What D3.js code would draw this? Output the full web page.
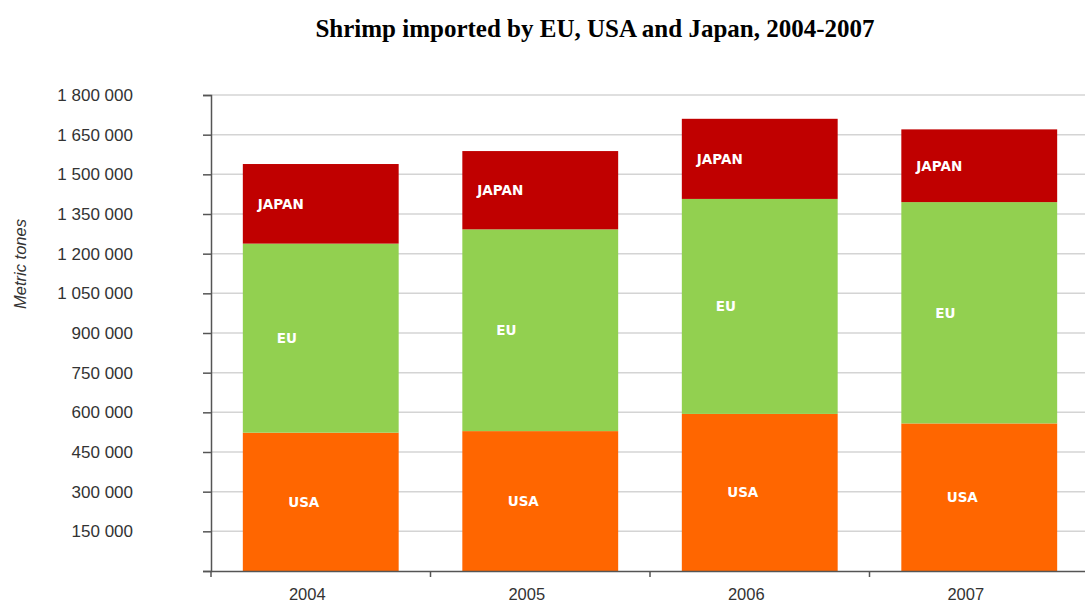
<!DOCTYPE html>
<html>
<head>
<meta charset="utf-8">
<script src="https://cdn.jsdelivr.net/npm/d3@7"></script>
<style>
  body { margin: 0; background: #fff; }
  svg { display: block; }
</style>
</head>
<body>
<div id="vis"></div>
<script>
// data (metric tonnes)
var years = ["2004", "2005", "2006", "2007"];
var series = ["USA", "EU", "JAPAN"];
var usa = [523000, 529000, 594000, 558000];
var eu = [715000, 763000, 813000, 837000];
var japan = [301000, 296000, 303000, 275000];
var yTicks = [0, 150000, 300000, 450000, 600000, 750000, 900000, 1050000, 1200000, 1350000, 1500000, 1650000, 1800000];

var width = 1085, height = 603;
var margin = {top: 95, right: -4, bottom: 32, left: 211};
var innerW = width - margin.left - margin.right,
    innerH = height - margin.top - margin.bottom;

var svg = d3.select("#vis").append("svg")
    .attr("width", width)
    .attr("height", height);

var g = svg.append("g").attr("transform", "translate(" + margin.left + "," + margin.top + ")");

// build rows for the stack
var rows = years.map(function(yr, i) {
  return {year: yr, USA: usa[i], EU: eu[i], JAPAN: japan[i]};
});
var stacked = d3.stack().keys(series)(rows);

var x = d3.scaleBand()
    .domain(years)
    .range([0, innerW])
    .paddingInner(0.29)
    .paddingOuter(0.145);

var y = d3.scaleLinear()
    .domain([0, 1800000])
    .range([innerH, 0]);

var color = d3.scaleOrdinal()
    .domain(series)
    .range(["#ff6600", "#92d050", "#c00000"]);

// label nudges (Excel put them left of centre)
var labelShift = {USA: -17, EU: -34, JAPAN: -40};

var fmt = d3.formatLocale({decimal: ",", thousands: " ", grouping: [3], currency: ["", ""]}).format(",d");

// gridlines
g.append("g")
  .selectAll("line")
  .data(yTicks.slice(1))
  .enter().append("line")
    .attr("x1", 0)
    .attr("x2", innerW)
    .attr("y1", function(d) { return y(d); })
    .attr("y2", function(d) { return y(d); })
    .attr("stroke", "#d4d4d4")
    .attr("stroke-width", 1.5);

// bars
var layer = g.append("g")
  .selectAll("g")
  .data(stacked)
  .enter().append("g")
    .attr("fill", function(d) { return color(d.key); });

layer.selectAll("rect")
  .data(function(d) { return d; })
  .enter().append("rect")
    .attr("x", function(d) { return x(d.data.year); })
    .attr("y", function(d) { return y(d[1]); })
    .attr("width", x.bandwidth())
    .attr("height", function(d) { return y(d[0]) - y(d[1]); });

// labels inside the segments
stacked.forEach(function(s) {
  g.append("g")
    .selectAll("text")
    .data(s)
    .enter().append("text")
      .attr("x", function(d) { return x(d.data.year) + x.bandwidth() / 2 + labelShift[s.key]; })
      .attr("y", function(d) { return (y(d[0]) + y(d[1])) / 2; })
      .attr("dy", "0.36em")
      .attr("text-anchor", "middle")
      .attr("fill", "#fff")
      .style("font-family", "'DejaVu Sans', Verdana, sans-serif")
      .style("font-weight", "bold")
      .style("font-size", "13.5px")
      .text(s.key);
});

// y axis
var yAxis = g.append("g")
    .call(d3.axisLeft(y).tickValues(yTicks).tickSize(8).tickPadding(70)
      .tickFormat(function(d) { return d === 0 ? "" : fmt(d); }));
yAxis.select(".domain").attr("stroke", "#555").attr("stroke-width", 1.5);
yAxis.selectAll(".tick line").attr("stroke", "#555").attr("stroke-width", 1.5);
yAxis.selectAll(".tick text")
    .attr("fill", "#333")
    .style("font-family", "'Liberation Sans', Arial, sans-serif")
    .style("font-size", "17px");

// x axis with ticks between categories
var xAxis = g.append("g")
    .attr("transform", "translate(0," + innerH + ")")
    .call(d3.axisBottom(x).tickSize(0).tickPadding(17));
xAxis.select(".domain").attr("stroke", "#555").attr("stroke-width", 1.5);
xAxis.selectAll(".tick text")
    .attr("dx", -13.5)
    .attr("fill", "#333")
    .style("font-family", "'Liberation Sans', Arial, sans-serif")
    .style("font-size", "16.5px");

g.append("g")
  .selectAll("line")
  .data(years)
  .enter().append("line")
    .attr("x1", function(d) { return x(d) - x.step() * x.paddingInner() / 2; })
    .attr("x2", function(d) { return x(d) - x.step() * x.paddingInner() / 2; })
    .attr("y1", innerH)
    .attr("y2", innerH + 6)
    .attr("stroke", "#555")
    .attr("stroke-width", 1.5);

// axis title
svg.append("text")
    .attr("transform", "translate(26,264) rotate(-90)")
    .attr("text-anchor", "middle")
    .attr("fill", "#333")
    .style("font-family", "'Liberation Sans', Arial, sans-serif")
    .style("font-style", "italic")
    .style("font-size", "16.5px")
    .text("Metric tones");

// chart title
svg.append("text")
    .attr("x", 595)
    .attr("y", 37)
    .attr("text-anchor", "middle")
    .attr("fill", "#000")
    .style("font-family", "'Liberation Serif', 'Times New Roman', serif")
    .style("font-weight", "bold")
    .style("font-size", "25px")
    .text("Shrimp imported by EU, USA and Japan, 2004-2007");
</script>
</body>
</html>
